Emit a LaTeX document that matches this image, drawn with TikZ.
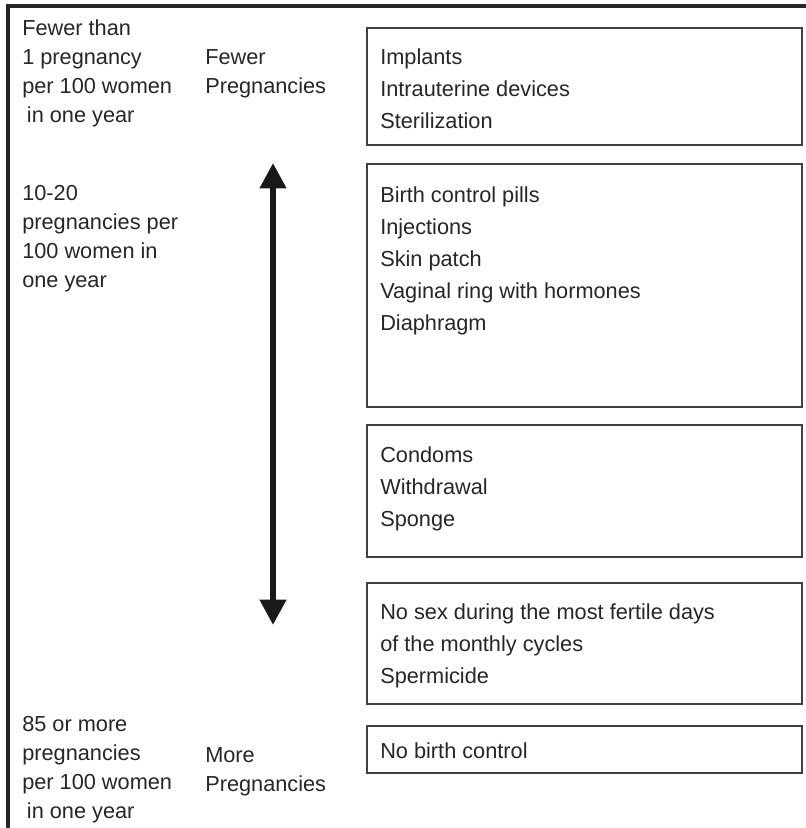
\documentclass[tikz,border=0pt]{standalone}
\usepackage{fontspec}
\setmainfont{Liberation Sans}
\usetikzlibrary{arrows.meta,positioning}

\tikzset{
  ratetext/.style={anchor=base west, align=left, inner sep=0pt, text=black!85,
    font=\fontsize{16.3}{21.75}\selectfont},
  methodtext/.style={anchor=base west, align=left, inner sep=0pt, text=black!85,
    font=\fontsize{16.3}{24}\selectfont},
  methodbox/.style={draw=black!75, line width=1.2pt},
}

\begin{document}
\begin{tikzpicture}[x=0.75pt,y=-0.75pt]
\useasboundingbox (0,0) rectangle (806,828);

% frame on top and left
\draw[line width=2.4pt, black!85] (6,6) -- (806,6);
\draw[line width=2.4pt, black!85] (8,5) -- (8,828);

% rates (placed by their last baseline)
\node[ratetext] (rtop) at (22,122) {Fewer than\\1 pregnancy\\per 100 women\\\hspace{3.5pt}in one year};
\node[ratetext] (rmid) at (22,287) {10-20\\pregnancies per\\100 women in\\one year};
\node[ratetext] (rbot) at (22,818) {85 or more\\pregnancies\\per 100 women\\\hspace{3.5pt}in one year};

\node[ratetext] (fewer) at (205,93) {Fewer\\Pregnancies};
\node[ratetext] (more) at (205,791) {More\\Pregnancies};

% scale arrow
\coordinate (atop) at (273,163);
\coordinate (abot) at (273,625);
\draw[line width=4.5pt, black!90, {Triangle[width=19pt,length=19pt]}-{Triangle[width=19pt,length=19pt]}] (atop) -- (abot);

% methods
\draw[methodbox] (367,28) rectangle (802,145);
\draw[methodbox] (367,164) rectangle (802,407);
\draw[methodbox] (367,425) rectangle (802,557);
\draw[methodbox] (367,583) rectangle (802,704);
\draw[methodbox] (367,726) rectangle (802,773);

\node[methodtext] (m1) at (380,128) {Implants\\Intrauterine devices\\Sterilization};
\node[methodtext] (m2) at (380,330) {Birth control pills\\Injections\\Skin patch\\Vaginal ring with hormones\\Diaphragm};
\node[methodtext] (m3) at (380,526) {Condoms\\Withdrawal\\Sponge};
\node[methodtext] (m4) at (380,683) {No sex during the most fertile days\\of the monthly cycles\\Spermicide};
\node[methodtext] (m5) at (380,758) {No birth control};

\end{tikzpicture}
\end{document}
